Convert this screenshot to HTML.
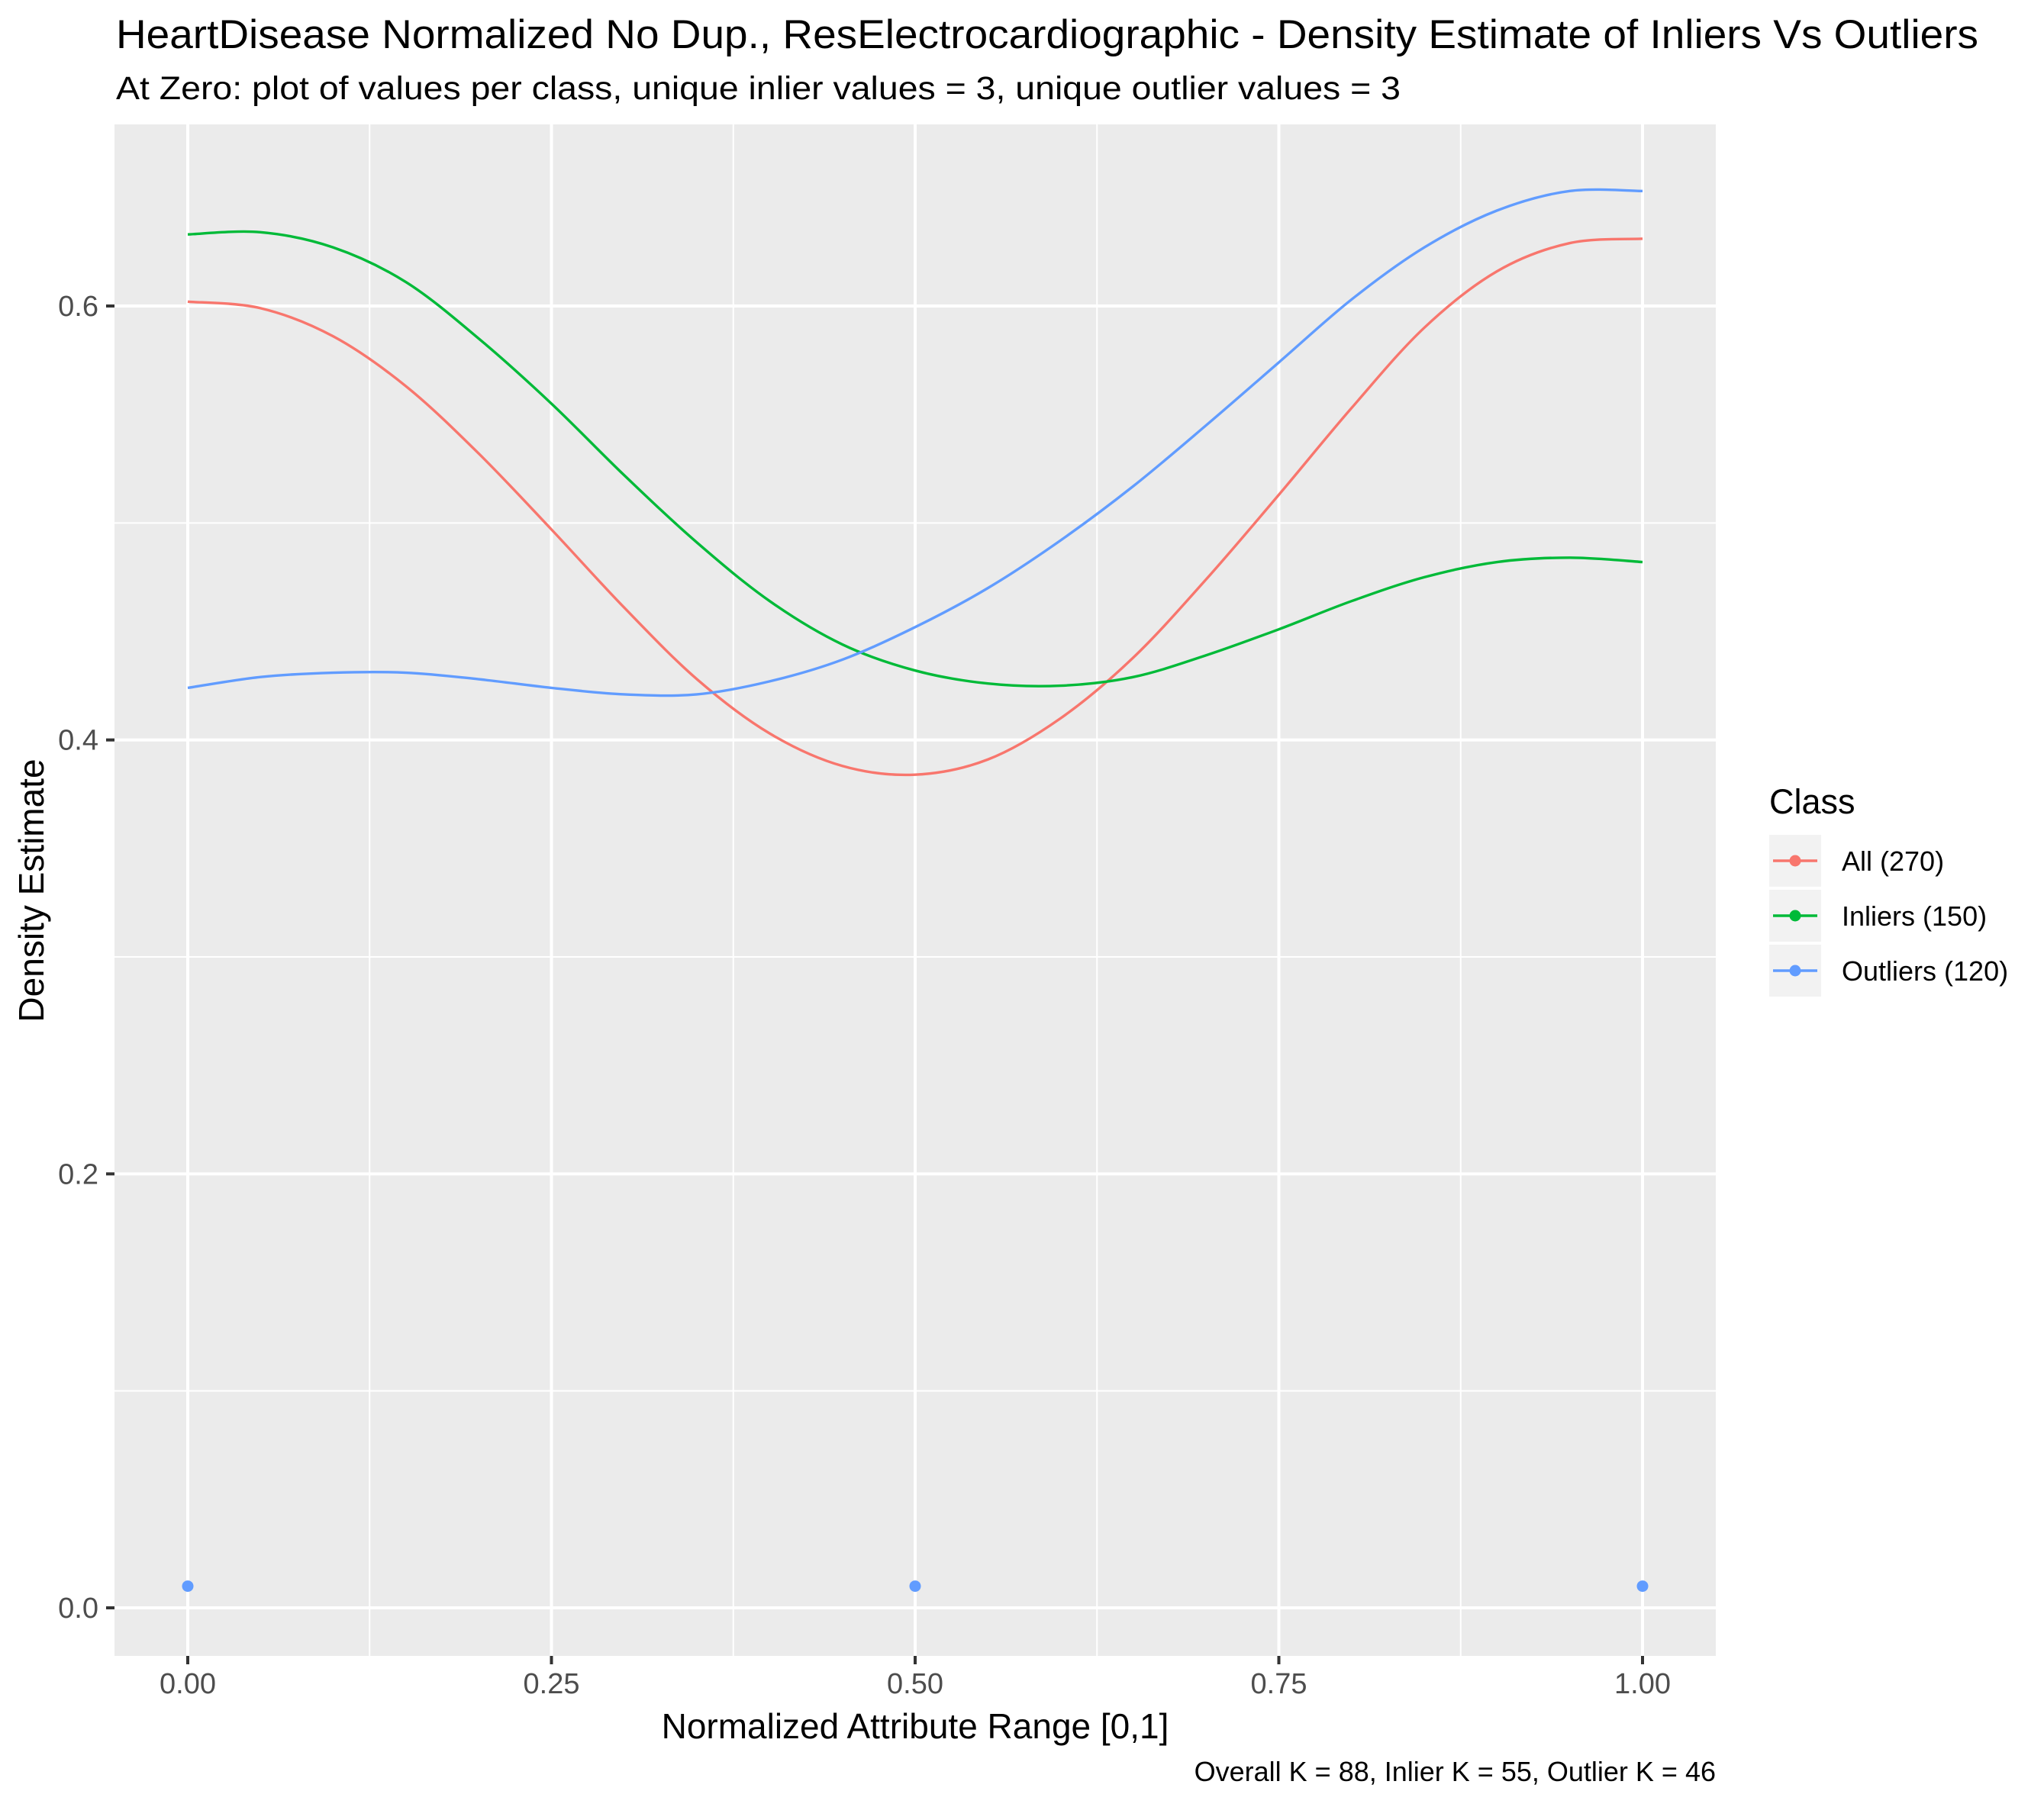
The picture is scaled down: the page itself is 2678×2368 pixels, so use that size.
<!DOCTYPE html>
<html><head><meta charset="utf-8"><style>
html,body{margin:0;padding:0;background:#fff;}
svg{display:block;font-family:"Liberation Sans",Arial,sans-serif;}
</style></head><body>
<svg id="chart" width="2678" height="2368" viewBox="0 0 2678 2368" xmlns="http://www.w3.org/2000/svg">
<rect width="2678" height="2368" fill="#fff"/>
<text x="152" y="63" font-size="53" fill="#000" textLength="2440" lengthAdjust="spacingAndGlyphs">HeartDisease Normalized No Dup., ResElectrocardiographic - Density Estimate of Inliers Vs Outliers</text>
<text x="152" y="130" font-size="43" fill="#000" textLength="1683" lengthAdjust="spacingAndGlyphs">At Zero: plot of values per class, unique inlier values = 3, unique outlier values = 3</text>
<rect x="150" y="163" width="2098" height="2007" fill="#ebebeb"/>
<g id="grid"></g>
<g id="series"></g>
<g id="axes"></g>
<text x="1199" y="2278" font-size="46" text-anchor="middle" fill="#000">Normalized Attribute Range [0,1]</text>
<text x="57" y="1167" font-size="46" text-anchor="middle" fill="#000" transform="rotate(-90 57 1167)">Density Estimate</text>
<text x="2248" y="2334" font-size="36" text-anchor="end" fill="#000">Overall K = 88, Inlier K = 55, Outlier K = 46</text>
<g id="legend">
<text x="2318" y="1066" font-size="45" fill="#000">Class</text>
</g>
</svg>
<script>
const xGrid = [0, 0.25, 0.5, 0.75, 1];
const xTickLabels = ["0.00", "0.25", "0.50", "0.75", "1.00"];
const xMinor = [0.125, 0.375, 0.625, 0.875];
const yGrid = [0, 0.2, 0.4, 0.6];
const yTickLabels = ["0.0", "0.2", "0.4", "0.6"];
const yMinor = [0.1, 0.3, 0.5];
const seriesNames = ["All (270)", "Inliers (150)", "Outliers (120)"];
const seriesColors = ["#F8766D", "#00BA38", "#619CFF"];
const xs = [0, 0.05, 0.1, 0.15, 0.2, 0.25, 0.3, 0.35, 0.4, 0.45, 0.5, 0.55, 0.6, 0.65, 0.7, 0.75, 0.8, 0.85, 0.9, 0.95, 1.0];
const allVals = [0.602, 0.599, 0.586, 0.563, 0.532, 0.497, 0.461, 0.428, 0.403, 0.388, 0.384, 0.391, 0.410, 0.438, 0.474, 0.513, 0.553, 0.590, 0.616, 0.629, 0.631];
const inlierVals = [0.633, 0.634, 0.627, 0.611, 0.585, 0.555, 0.522, 0.491, 0.464, 0.444, 0.432, 0.426, 0.425, 0.429, 0.439, 0.451, 0.464, 0.475, 0.482, 0.484, 0.482];
const outlierVals = [0.424, 0.429, 0.431, 0.431, 0.428, 0.424, 0.421, 0.421, 0.427, 0.437, 0.452, 0.470, 0.492, 0.517, 0.545, 0.574, 0.603, 0.627, 0.644, 0.653, 0.653];
const pointXs = [0, 0.5, 1];
const pointYs = [0.01, 0.01, 0.01];

const NS = "http://www.w3.org/2000/svg";
const X = v => 246 + v * 1906;
const Y = v => 2107 - v * (1706 / 0.6);
function mk(tag, attrs, parent) {
  const e = document.createElementNS(NS, tag);
  for (const k in attrs) e.setAttribute(k, attrs[k]);
  parent.appendChild(e);
  return e;
}
const grid = document.getElementById("grid");
const axes = document.getElementById("axes");
const series = document.getElementById("series");
const legend = document.getElementById("legend");

xMinor.forEach(v => {
  const l = mk("line", {x1: X(v), x2: X(v), y1: 163, y2: 2170, stroke: "#fff", "stroke-width": 2}, grid);
  
  
});
yMinor.forEach(v => {
  const l = mk("line", {x1: 150, x2: 2248, y1: Y(v), y2: Y(v), stroke: "#fff", "stroke-width": 2}, grid);
  
  
});
xGrid.forEach((v, i) => {
  const l = mk("line", {x1: X(v), x2: X(v), y1: 163, y2: 2170, stroke: "#fff", "stroke-width": 4}, grid);
  
  
  const t = mk("line", {x1: X(v), x2: X(v), y1: 2170, y2: 2181, stroke: "#333", "stroke-width": 4}, axes);
  
  
  const tx = mk("text", {x: X(v), y: 2219, "font-size": 38, "text-anchor": "middle", fill: "#4d4d4d"}, axes);
  tx.textContent = xTickLabels[i];
  
  
});
yGrid.forEach((v, i) => {
  const l = mk("line", {x1: 150, x2: 2248, y1: Y(v), y2: Y(v), stroke: "#fff", "stroke-width": 4}, grid);
  
  
  const t = mk("line", {x1: 139, x2: 150, y1: Y(v), y2: Y(v), stroke: "#333", "stroke-width": 4}, axes);
  
  
  const tx = mk("text", {x: 129, y: Y(v) + 13, "font-size": 38, "text-anchor": "end", fill: "#4d4d4d"}, axes);
  tx.textContent = yTickLabels[i];
  
  
});

function smoothPath(vals) {
  const p = xs.map((x, i) => [X(x), Y(vals[i])]);
  let d = "M" + p[0][0] + "," + p[0][1];
  for (let i = 0; i < p.length - 1; i++) {
    const p0 = p[i - 1] || p[i], p1 = p[i], p2 = p[i + 1], p3 = p[i + 2] || p2;
    const c1x = p1[0] + (p2[0] - p0[0]) / 6, c1y = p1[1] + (p2[1] - p0[1]) / 6;
    const c2x = p2[0] - (p3[0] - p1[0]) / 6, c2y = p2[1] - (p3[1] - p1[1]) / 6;
    d += " C" + c1x + "," + c1y + " " + c2x + "," + c2y + " " + p2[0] + "," + p2[1];
  }
  return d;
}
const allSeries = [allVals, inlierVals, outlierVals];
const seriesKeys = ["all", "inliers", "outliers"];
allSeries.forEach((vals, i) => {
  const path = mk("path", {d: smoothPath(vals), fill: "none", stroke: seriesColors[i], "stroke-width": 3.4}, series);
  
  
});
pointXs.forEach((x, i) => {
  const c = mk("circle", {cx: X(x), cy: Y(pointYs[i]), r: 7.5, fill: "#619CFF"}, series);
  
  
});

seriesNames.forEach((name, i) => {
  const top = 1094 + i * 72;
  const g = mk("g", {}, legend);
  
  
  mk("rect", {x: 2318, y: top, width: 68, height: 68, fill: "#f2f2f2"}, g);
  mk("line", {x1: 2323, x2: 2381, y1: top + 34, y2: top + 34, stroke: seriesColors[i], "stroke-width": 3.4}, g);
  mk("circle", {cx: 2352, cy: top + 34, r: 7.5, fill: seriesColors[i]}, g);
  const t = mk("text", {x: 2413, y: top + 47, "font-size": 36, fill: "#000"}, g);
  t.textContent = name;
});
</script>
</body></html>
